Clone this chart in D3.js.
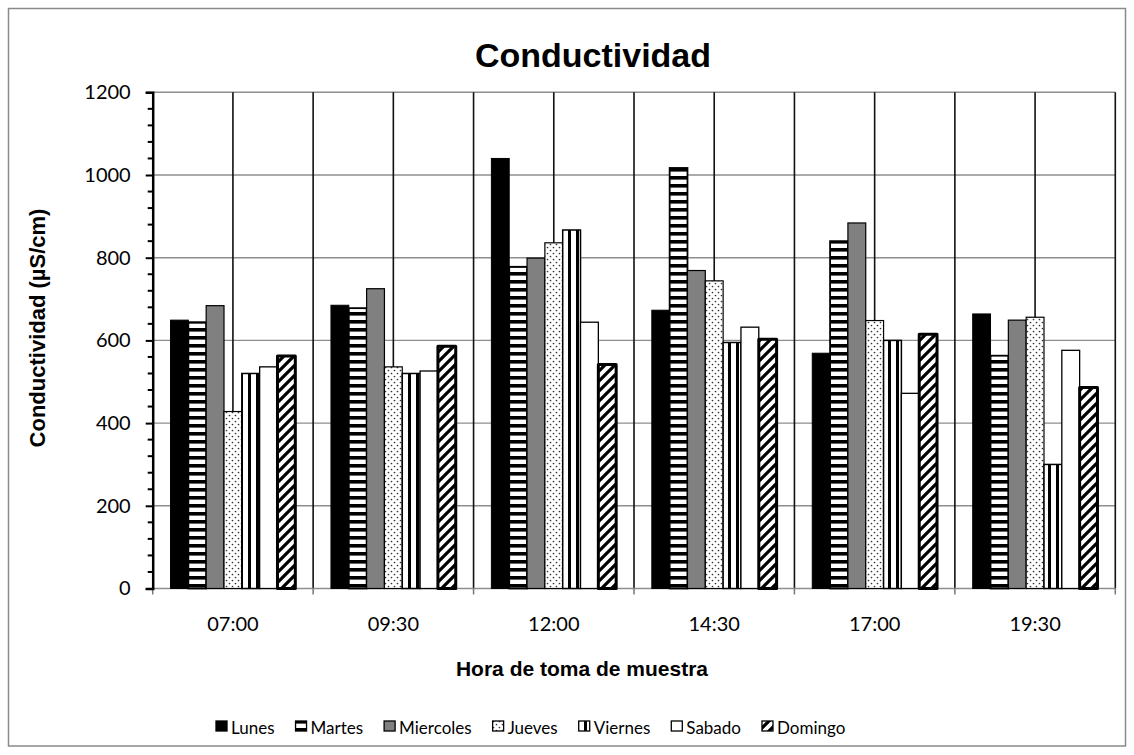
<!DOCTYPE html>
<html>
<head>
<meta charset="utf-8">
<script src="https://cdn.jsdelivr.net/npm/d3@7"></script>
<style>
  html, body { margin: 0; padding: 0; background: #fff; }
  svg { display: block; }
</style>
</head>
<body>
<div id="chart"></div>
<script>
// ---- data ----
const categories = ["07:00", "09:30", "12:00", "14:30", "17:00", "19:30"];
const seriesNames = ["Lunes", "Martes", "Miercoles", "Jueves", "Viernes", "Sabado", "Domingo"];
const lunes     = [649, 685, 1040, 673, 569, 664];
const martes    = [644, 678, 778, 1017, 840, 563];
const miercoles = [684, 725, 799, 769, 884, 649];
const jueves    = [428, 536, 836, 744, 648, 656];
const viernes   = [520, 520, 867, 595, 600, 300];
const sabado    = [536, 526, 644, 632, 472, 576];
const domingo   = [562, 586, 542, 603, 615, 486];
const yTicks = [0, 200, 400, 600, 800, 1000, 1200];
const titleText = "Conductividad";
const xTitleText = "Hora de toma de muestra";
const yTitleText = "Conductividad (\u00B5S/cm)";

const seriesValues = [lunes, martes, miercoles, jueves, viernes, sabado, domingo];

// ---- layout ----
const W = 1134, H = 755;
const plot = { left: 152.7, right: 1115.3, top: 92.3, bottom: 588.5 };

const svg = d3.select("#chart").append("svg").attr("width", W).attr("height", H);

// patterns
const defs = svg.append("defs");
const pMartes = defs.append("pattern").attr("id", "pMartes").attr("patternUnits", "userSpaceOnUse")
  .attr("width", 8).attr("height", 8);
pMartes.append("rect").attr("width", 8).attr("height", 8).attr("fill", "#fff");
pMartes.append("rect").attr("y", 0).attr("width", 8).attr("height", 3.6).attr("fill", "#000");

const pJueves = defs.append("pattern").attr("id", "pJueves").attr("patternUnits", "userSpaceOnUse")
  .attr("width", 6).attr("height", 6);
pJueves.append("rect").attr("width", 6).attr("height", 6).attr("fill", "#fff");
pJueves.append("circle").attr("cx", 1.5).attr("cy", 1.5).attr("r", 0.85).attr("fill", "#333");
pJueves.append("circle").attr("cx", 4.5).attr("cy", 4.5).attr("r", 0.85).attr("fill", "#333");

const pViernes = defs.append("pattern").attr("id", "pViernes").attr("patternUnits", "userSpaceOnUse")
  .attr("width", 8).attr("height", 8);
pViernes.append("rect").attr("width", 8).attr("height", 8).attr("fill", "#fff");
pViernes.append("rect").attr("x", 0).attr("width", 3).attr("height", 8).attr("fill", "#000");

const pDomingo = defs.append("pattern").attr("id", "pDomingo").attr("patternUnits", "userSpaceOnUse")
  .attr("width", 10).attr("height", 10);
pDomingo.append("rect").attr("width", 10).attr("height", 10).attr("fill", "#fff");
pDomingo.append("path").attr("d", "M-2,12 L12,-2 M-7,7 L7,-7 M3,17 L17,3")
  .attr("stroke", "#000").attr("stroke-width", 3.2);

const seriesStyle = [
  { fill: "#000", sw: 1 },
  { fill: "url(#pMartes)", sw: 1.8 },
  { fill: "#808080", sw: 1.2 },
  { fill: "url(#pJueves)", sw: 1.2 },
  { fill: "url(#pViernes)", sw: 1.5 },
  { fill: "#fff", sw: 1.3 },
  { fill: "url(#pDomingo)", sw: 3 }
];

// outer border
svg.append("rect").attr("x", 8.5).attr("y", 8.5).attr("width", 1117).attr("height", 737.5)
  .attr("fill", "#fff").attr("stroke", "#8a8a8a").attr("stroke-width", 1.5);

// scales
const x0 = d3.scaleBand().domain(categories).range([plot.left, plot.right]).paddingInner(0).paddingOuter(0);
const x1 = d3.scaleBand().domain(seriesNames).range([0, x0.bandwidth()]).paddingInner(0).paddingOuter(1);
const y = d3.scaleLinear().domain([0, 1200]).range([plot.bottom, plot.top]);

// horizontal gridlines
svg.append("g").selectAll("line").data(yTicks.filter(d => d > 0)).join("line")
  .attr("x1", plot.left).attr("x2", plot.right)
  .attr("y1", d => y(d)).attr("y2", d => y(d))
  .attr("stroke", "#8e8e8e").attr("stroke-width", 1.4);

// vertical gridlines (major at boundaries, minor at category centres)
const vLines = [];
categories.forEach(c => { vLines.push(x0(c) + x0.bandwidth() / 2); vLines.push(x0(c) + x0.bandwidth()); });
svg.append("g").selectAll("line").data(vLines).join("line")
  .attr("x1", d => d).attr("x2", d => d)
  .attr("y1", plot.top).attr("y2", plot.bottom)
  .attr("stroke", "#111").attr("stroke-width", 1.6);

// x axis line + ticks at category boundaries
svg.append("line").attr("x1", plot.left).attr("x2", plot.right)
  .attr("y1", plot.bottom).attr("y2", plot.bottom)
  .attr("stroke", "#8e8e8e").attr("stroke-width", 1.5);
const xBounds = categories.map(c => x0(c)).concat([plot.right]);
svg.append("g").selectAll("line").data(xBounds).join("line")
  .attr("x1", d => d).attr("x2", d => d)
  .attr("y1", plot.bottom).attr("y2", plot.bottom + 6)
  .attr("stroke", "#777").attr("stroke-width", 1.5);

// bars
const gBars = svg.append("g");
seriesNames.forEach((s, si) => {
  const st = seriesStyle[si];
  gBars.append("g").selectAll("rect").data(seriesValues[si]).join("rect")
    .attr("x", (d, i) => x0(categories[i]) + x1(s))
    .attr("y", d => y(d))
    .attr("width", x1.bandwidth())
    .attr("height", d => y(0) - y(d))
    .attr("fill", st.fill)
    .attr("stroke", "#000")
    .attr("stroke-width", st.sw)
    .attr("stroke-linejoin", si === 6 ? "round" : "miter");
});

// y axis
const yAxis = d3.axisLeft(y).tickValues(yTicks).tickSize(7).tickFormat(d3.format("d"));
const gy = svg.append("g").attr("transform", `translate(${plot.left},0)`).call(yAxis);
gy.select(".domain").attr("stroke", "#000").attr("stroke-width", 2.5);
gy.selectAll(".tick line").attr("stroke", "#000").attr("stroke-width", 2);
gy.selectAll(".tick text").attr("x", -22).attr("font-family", "Lato, 'Open Sans', sans-serif")
  .attr("font-size", 20).attr("fill", "#000");
// minor ticks
const minor = d3.range(0, 1201, 40).filter(v => v % 200 !== 0);
svg.append("g").selectAll("line").data(minor).join("line")
  .attr("x1", plot.left - 5).attr("x2", plot.left)
  .attr("y1", d => y(d)).attr("y2", d => y(d))
  .attr("stroke", "#000").attr("stroke-width", 2);

// x tick labels
svg.append("g").selectAll("text").data(categories).join("text")
  .attr("x", d => x0(d) + x0.bandwidth() / 2)
  .attr("y", 631)
  .attr("text-anchor", "middle")
  .attr("font-family", "Lato, 'Open Sans', sans-serif")
  .attr("font-size", 20)
  .text(d => d);

// titles
svg.append("text").attr("x", 593).attr("y", 67).attr("text-anchor", "middle")
  .attr("font-family", "'Liberation Sans', Arial, sans-serif").attr("font-weight", "bold")
  .attr("font-size", 34).text(titleText);

svg.append("text").attr("x", 582).attr("y", 676).attr("text-anchor", "middle")
  .attr("font-family", "'Liberation Sans', Arial, sans-serif").attr("font-weight", "bold")
  .attr("font-size", 21).text(xTitleText);

svg.append("text").attr("transform", "translate(45,328) rotate(-90)").attr("text-anchor", "middle")
  .attr("font-family", "'Liberation Sans', Arial, sans-serif").attr("font-weight", "bold")
  .attr("font-size", 22).text(yTitleText);

// legend
const gLeg = svg.append("g");
let lx = 216;
const legendIconY = 721, iconSize = 11;
seriesNames.forEach((s, si) => {
  const st = seriesStyle[si];
  const g = gLeg.append("g");
  g.append("rect").attr("x", lx).attr("y", legendIconY).attr("width", iconSize).attr("height", iconSize - 1)
    .attr("fill", st.fill).attr("stroke", "#000").attr("stroke-width", 1.3);
  const t = g.append("text").attr("x", lx + iconSize + 4).attr("y", 734)
    .attr("font-family", "Lato, 'Open Sans', sans-serif").attr("font-size", 17).text(s);
  lx += iconSize + 4 + t.node().getComputedTextLength() + 21;
});
</script>
</body>
</html>
